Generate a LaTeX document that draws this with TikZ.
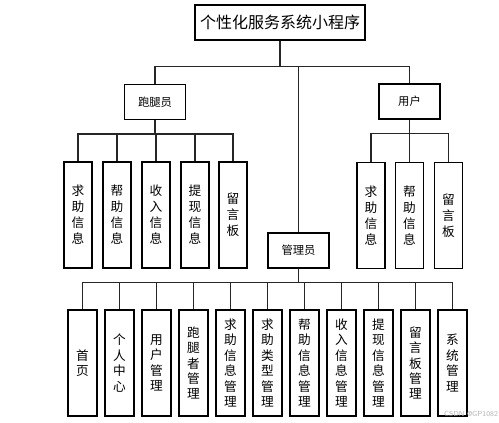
\documentclass[tikz,border=0pt]{standalone}
\usepackage{fontspec}
\newfontfamily\cjk{Noto Sans CJK SC}
\usetikzlibrary{positioning}

\begin{document}
\begin{tikzpicture}[
    x=0.75pt, y=-0.75pt,
    rootbox/.style={rectangle, draw, line width=0.8pt, inner sep=0pt, minimum width=127.5pt, minimum height=26.25pt, font=\cjk\fontsize{12}{14}\selectfont},
    rolebox/.style={rectangle, draw, line width=0.8pt, inner sep=0pt, minimum width=45.75pt, minimum height=26.25pt, font=\cjk\fontsize{8.5}{10}\selectfont},
    leafbox/.style={rectangle, draw, line width=0.8pt, inner sep=0pt, minimum width=21pt, minimum height=79.5pt, align=center, font=\cjk\fontsize{9.5}{12}\selectfont},
    funcbox/.style={leafbox, minimum width=21.75pt, font=\cjk\fontsize{9.5}{11.6}\selectfont},
    link/.style={draw=black!85, line width=0.95pt}
]
\useasboundingbox (0,0) rectangle (499,422);

\node[rootbox] (app) at (280,22.5) {个性化服务系统小程序};

\node[rolebox] (runner) at (155,102) {跑腿员};
\node[rolebox] (user) at (409.5,101.5) {用户};
\node[rolebox] (admin) at (298.5,250.5) {管理员};

% runner side
\node[leafbox] (r1) at (78,215) {求\\助\\信\\息};
\node[leafbox] (r2) at (117,215) {帮\\助\\信\\息};
\node[leafbox] (r3) at (156,215) {收\\入\\信\\息};
\node[leafbox] (r4) at (195,215) {提\\现\\信\\息};
\node[leafbox] (r5) at (233,215) {留\\言\\板};

% user side
\node[leafbox] (u1) at (371,215.5) {求\\助\\信\\息};
\node[leafbox] (u2) at (409.5,215.5) {帮\\助\\信\\息};
\node[leafbox] (u3) at (448.5,215.5) {留\\言\\板};

% admin side
\node[funcbox] (a1) at (82.5,363) {首\\页};
\node[funcbox] (a2) at (119.5,363) {个\\人\\中\\心};
\node[funcbox] (a3) at (156.5,363) {用\\户\\管\\理};
\node[funcbox] (a4) at (193.5,363) {跑\\腿\\者\\管\\理};
\node[funcbox] (a5) at (230.5,363) {求\\助\\信\\息\\管\\理};
\node[funcbox] (a6) at (267.5,363) {求\\助\\类\\型\\管\\理};
\node[funcbox] (a7) at (304.5,363) {帮\\助\\信\\息\\管\\理};
\node[funcbox] (a8) at (341.5,363) {收\\入\\信\\息\\管\\理};
\node[funcbox] (a9) at (378.5,363) {提\\现\\信\\息\\管\\理};
\node[funcbox] (a10) at (415.5,363) {留\\言\\板\\管\\理};
\node[funcbox] (a11) at (452.5,363) {系\\统\\管\\理};

\node[text=black!30, font=\sffamily\fontsize{5.5}{6}\selectfont] (mark) at (471,414) {CSDN @GP1082};

\draw[link] (app.south) -- ++(0,26) -| (runner.north);
\draw[link] (app.south) -- ++(0,26) -| (user.north);
\draw[link] (app.south) -- ++(0,26) -| (admin.north);

\draw[link] (runner.south) -- ++(0,14) -| (r1.north);
\draw[link] (runner.south) -- ++(0,14) -| (r2.north);
\draw[link] (runner.south) -- ++(0,14) -| (r3.north);
\draw[link] (runner.south) -- ++(0,14) -| (r4.north);
\draw[link] (runner.south) -- ++(0,14) -| (r5.north);

\draw[link] (user.south) -- ++(0,14) -| (u1.north);
\draw[link] (user.south) -- ++(0,14) -| (u2.north);
\draw[link] (user.south) -- ++(0,14) -| (u3.north);

\draw[link] (admin.south) -- ++(0,14) -| (a1.north);
\draw[link] (admin.south) -- ++(0,14) -| (a2.north);
\draw[link] (admin.south) -- ++(0,14) -| (a3.north);
\draw[link] (admin.south) -- ++(0,14) -| (a4.north);
\draw[link] (admin.south) -- ++(0,14) -| (a5.north);
\draw[link] (admin.south) -- ++(0,14) -| (a6.north);
\draw[link] (admin.south) -- ++(0,14) -| (a7.north);
\draw[link] (admin.south) -- ++(0,14) -| (a8.north);
\draw[link] (admin.south) -- ++(0,14) -| (a9.north);
\draw[link] (admin.south) -- ++(0,14) -| (a10.north);
\draw[link] (admin.south) -- ++(0,14) -| (a11.north);
\end{tikzpicture}
\end{document}
